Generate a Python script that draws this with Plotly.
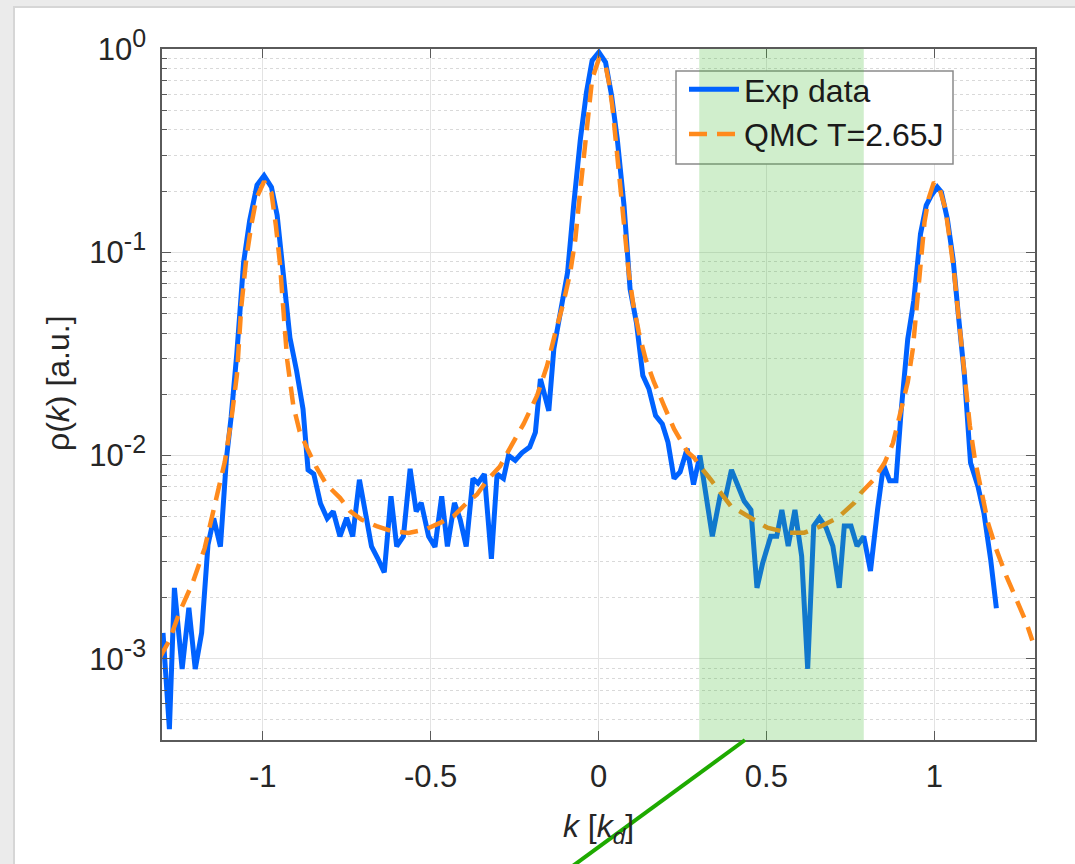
import plotly.graph_objects as go

# ---------------- data ----------------
exp_k = [-1.297, -1.278, -1.263, -1.240, -1.220, -1.201, -1.182, -1.163, -1.146, -1.126,
         -1.108, -1.094, -1.077, -1.057, -1.039, -1.017, -0.996, -0.974, -0.957, -0.939,
         -0.919, -0.899, -0.880, -0.865, -0.848, -0.828, -0.808, -0.790, -0.770, -0.750,
         -0.732, -0.712, -0.696, -0.676, -0.658, -0.638, -0.618, -0.601, -0.581, -0.561,
         -0.543, -0.528, -0.506, -0.487, -0.467, -0.450, -0.429, -0.412, -0.394, -0.374,
         -0.359, -0.340, -0.319, -0.302, -0.283, -0.268, -0.248, -0.228, -0.205, -0.188,
         -0.173, -0.148, -0.133, -0.113, -0.092, -0.074, -0.054, -0.036, -0.019, 0.001,
         0.021, 0.039, 0.056, 0.076, 0.094, 0.113, 0.132, 0.150, 0.170, 0.190,
         0.207, 0.225, 0.243, 0.264, 0.283, 0.302, 0.339, 0.362, 0.379, 0.396,
         0.419, 0.434, 0.454, 0.472, 0.489, 0.513, 0.531, 0.546, 0.565, 0.585,
         0.605, 0.623, 0.641, 0.658, 0.678, 0.698, 0.717, 0.732, 0.752, 0.770,
         0.790, 0.810, 0.831, 0.849, 0.867, 0.886, 0.901, 0.921, 0.939, 0.959,
         0.976, 0.991, 1.009, 1.021, 1.039, 1.056, 1.072, 1.090, 1.108, 1.130,
         1.148, 1.168, 1.185]
exp_rho = [1.34e-3, 4.5e-4, 2.23e-3, 8.9e-4, 1.78e-3, 8.9e-4, 1.34e-3, 3.64e-3, 4.9e-3, 3.56e-3,
           9.7e-3, 1.55e-2, 3.2e-2, 8.9e-2, 0.143, 0.214, 0.238, 0.209, 0.152, 0.078,
           0.038, 0.026, 0.0169, 8.5e-3, 8.1e-3, 5.8e-3, 4.9e-3, 5.3e-3, 4.0e-3, 4.93e-3,
           4.0e-3, 7.6e-3, 5.6e-3, 3.57e-3, 3.13e-3, 2.66e-3, 6.3e-3, 3.57e-3, 4.0e-3, 8.6e-3,
           5.3e-3, 5.85e-3, 4.0e-3, 3.55e-3, 6.3e-3, 3.57e-3, 5.85e-3, 4.84e-3, 3.57e-3, 7.7e-3,
           7.3e-3, 8.1e-3, 3.1e-3, 8.1e-3, 7.7e-3, 1.0e-2, 9.45e-3, 1.03e-2, 1.1e-2, 1.3e-2,
           2.38e-2, 1.66e-2, 3.35e-2, 5.26e-2, 7.97e-2, 0.17, 0.36, 0.61, 0.877, 0.964,
           0.86, 0.59, 0.36, 0.17, 0.066, 0.045, 0.0247, 0.0213, 0.0157, 0.0143,
           0.0116, 7.7e-3, 8.3e-3, 1.08e-2, 7.2e-3, 1.0e-2, 4.0e-3, 6.3e-3, 6.3e-3, 8.5e-3,
           6.8e-3, 5.96e-3, 5.4e-3, 2.23e-3, 2.96e-3, 4.0e-3, 4.0e-3, 5.4e-3, 3.58e-3, 5.4e-3,
           3.2e-3, 8.9e-4, 4.5e-3, 4.93e-3, 4.4e-3, 3.58e-3, 2.23e-3, 4.5e-3, 4.5e-3, 3.58e-3,
           4.0e-3, 2.7e-3, 5.4e-3, 9.0e-3, 7.5e-3, 7.5e-3, 0.0163, 0.0374, 0.0578, 0.123,
           0.17, 0.19, 0.209, 0.198, 0.146, 0.0927, 0.0487, 0.0246, 9.2e-3, 7.06e-3,
           5.2e-3, 3.07e-3, 1.77e-3]

qmc_k = [-1.307, -1.278, -1.248, -1.208, -1.173, -1.138, -1.113, -1.094, -1.077, -1.064,
         -1.049, -1.034, -1.019, -0.996, -0.974, -0.961, -0.949, -0.939, -0.927, -0.909,
         -0.890, -0.865, -0.840, -0.810, -0.770, -0.740, -0.706, -0.661, -0.616, -0.566,
         -0.516, -0.472, -0.432, -0.392, -0.362, -0.332, -0.293, -0.273, -0.223, -0.183,
         -0.153, -0.128, -0.104, -0.084, -0.069, -0.059, -0.049, -0.039, -0.029, -0.019,
         0.001, 0.021, 0.031, 0.041, 0.051, 0.061, 0.071, 0.081, 0.090, 0.104,
         0.120, 0.140, 0.165, 0.195, 0.225, 0.265, 0.285, 0.304, 0.334, 0.394,
         0.444, 0.503, 0.563, 0.613, 0.663, 0.712, 0.762, 0.782, 0.820, 0.852,
         0.877, 0.901, 0.921, 0.936, 0.946, 0.956, 0.963, 0.971, 0.983, 0.999,
         1.016, 1.033, 1.046, 1.059, 1.071, 1.083, 1.096, 1.106, 1.121, 1.140,
         1.160, 1.185, 1.215, 1.245, 1.275, 1.292]
qmc_rho = [1.01e-3, 1.23e-3, 1.69e-3, 2.38e-3, 3.49e-3, 6.07e-3, 9.31e-3, 0.0148, 0.0248, 0.0535,
           0.0931, 0.136, 0.184, 0.223, 0.196, 0.136, 0.0891, 0.0535, 0.0294, 0.0176,
           0.0131, 0.0106, 8.73e-3, 7.19e-3, 6.19e-3, 5.32e-3, 4.84e-3, 4.49e-3, 4.24e-3, 4.16e-3,
           4.32e-3, 4.66e-3, 5.02e-3, 5.85e-3, 6.43e-3, 7.53e-3, 8.85e-3, 0.0102, 0.0143, 0.0197,
           0.0277, 0.0405, 0.0568, 0.0798, 0.116, 0.170, 0.247, 0.361, 0.526, 0.711,
           0.893, 0.828, 0.685, 0.526, 0.361, 0.247, 0.170, 0.116, 0.0798, 0.0547,
           0.0405, 0.0299, 0.0230, 0.0176, 0.0135, 0.0104, 9.75e-3, 8.77e-3, 7.62e-3, 5.64e-3,
           5.04e-3, 4.41e-3, 4.17e-3, 4.17e-3, 4.49e-3, 4.93e-3, 5.85e-3, 6.55e-3, 7.62e-3, 9.20e-3,
           0.0115, 0.0163, 0.0229, 0.0333, 0.0488, 0.0711, 0.104, 0.141, 0.183, 0.221,
           0.205, 0.164, 0.116, 0.0796, 0.0506, 0.0321, 0.0204, 0.0140, 9.55e-3, 6.55e-3,
           4.66e-3, 3.44e-3, 2.54e-3, 1.95e-3, 1.49e-3, 1.23e-3]

x_ticks = [-1, -0.5, 0, 0.5, 1]
x_tick_labels = ["-1", "-0.5", "0", "0.5", "1"]
y_ticks = [1e-3, 1e-2, 1e-1, 1]
y_exponents = ["-3", "-2", "-1", "0"]
y_minor = [m * 10.0 ** e for e in (-4, -3, -2, -1) for m in range(2, 10)]
band = [0.3, 0.79]

series_names = ["Exp data", "QMC T=2.65J"]
x_title = "<i>k</i> [<i>k</i><sub><i>d</i></sub>]"
y_title = "ρ(<i>k</i>) [a.u.]"

FONT = "Liberation Sans, Arial, Helvetica, sans-serif"
TXT = "#262626"

y_tick_labels = ['10<sup><span style="font-size:25px">%s</span></sup>' % e for e in y_exponents]

fig = go.Figure()
fig.add_trace(go.Scatter(x=exp_k, y=exp_rho, mode="lines", name=series_names[0],
                         line=dict(color="#0062ff", width=5)))
fig.add_trace(go.Scatter(x=qmc_k, y=qmc_rho, mode="lines", name=series_names[1],
                         line=dict(color="#ff8a1c", width=4.5, dash="18px,10px")))

W, H = 1075, 864
L, R, T, B = 162, 1035, 49, 740


def px(xp):
    return (xp - L) / (R - L)


def py(yp):
    return (B - yp) / (B - T)


shapes = [
    # white figure sheet on grey window
    dict(type="rect", xref="paper", yref="paper", layer="below",
         x0=px(14), x1=px(1120), y0=py(900), y1=py(7),
         fillcolor="white", line=dict(color="#d6d6d6", width=2)),
    # legend box
    dict(type="rect", xref="paper", yref="paper", layer="above",
         x0=px(676), x1=px(953), y0=py(164), y1=py(71),
         fillcolor="white", line=dict(color="#8a8a8a", width=1.5)),
    # shaded band
    dict(type="rect", xref="x", yref="paper", layer="above",
         x0=band[0], x1=band[1], y0=0, y1=1,
         fillcolor="rgba(67,187,51,0.25)", line=dict(width=0)),
    # green pointer line
    dict(type="line", xref="paper", yref="paper", layer="above",
         x0=px(745), y0=py(740), x1=px(570), y1=py(868),
         line=dict(color="#1eaa00", width=4)),
]

axis_common = dict(showline=True, linecolor="#5a5a5a", linewidth=1.5, mirror="allticks",
                   ticks="inside", ticklen=9, tickcolor="#5a5a5a", tickwidth=1.2,
                   showgrid=True, gridcolor="#e3e3e3", gridwidth=1, zeroline=False,
                   tickfont=dict(family=FONT, size=31, color=TXT))

fig.update_layout(
    width=W, height=H,
    margin=dict(l=L, r=W - R, t=T, b=H - B, autoexpand=False),
    paper_bgcolor="#ebebeb", plot_bgcolor="white",
    shapes=shapes,
    showlegend=True,
    legend=dict(x=px(684), y=py(62), xanchor="left", yanchor="top",
                bgcolor="rgba(0,0,0,0)", borderwidth=0,
                font=dict(family=FONT, size=32, color="#1a1a1a"),
                itemwidth=50),
    annotations=[
        dict(text=y_title, xref="paper", yref="paper", x=px(58), y=py(383),
             xanchor="center", yanchor="middle", textangle=-90, showarrow=False,
             font=dict(family=FONT, size=32, color=TXT)),
    ],
    xaxis=dict(range=[-1.3, 1.3], tickvals=x_ticks, ticktext=x_tick_labels,
               ticklabelstandoff=8,
               title=dict(text=x_title,
                          font=dict(family=FONT, size=32, color=TXT), standoff=22),
               **axis_common),
    yaxis=dict(type="log", range=[-3.4, 0], tickvals=y_ticks, ticktext=y_tick_labels,
               ticklabelstandoff=8,
               minor=dict(tickvals=y_minor, ticks="inside", ticklen=5, tickcolor="#5a5a5a",
                          showgrid=True, gridcolor="#d9d9d9", griddash="dot", gridwidth=1),
               **axis_common),
)

fig.write_html("out.html",
               config={"displayModeBar": False},
               post_script="document.body.style.margin='0px';"
                           "document.body.style.overflow='hidden';")
